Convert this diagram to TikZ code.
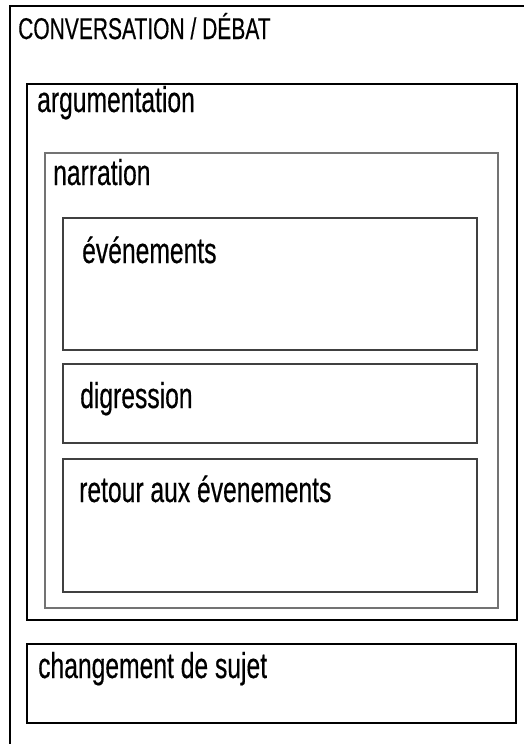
\documentclass[tikz,border=0pt]{standalone}
\usepackage{fontspec}
\setmainfont[FakeStretch=0.685,FakeBold=0.4]{Liberation Sans}
\newfontfamily\titlefont[FakeStretch=0.70,FakeBold=0.4]{Liberation Sans}
\usetikzlibrary{positioning}

\begin{document}
\begin{tikzpicture}[x=1pt,y=-1pt,
frame/.style={draw, line width=2pt},
nbox/.style={draw=black!55, line width=1.5pt},
ibox/.style={draw=black!75, line width=1.4pt},
lab/.style={anchor=base west, inner sep=0pt, font=\fontsize{36}{40}\selectfont}
]
\useasboundingbox (0,0) rectangle (524,744);
% outer frame, open on the right and below
\draw[frame] (524,6) -- (10,6) -- (10,744);
\node[anchor=base west, inner sep=0pt, font=\titlefont\fontsize{30}{34}\selectfont] (conv) at (18,39) {CONVERSATION / DÉBAT};

\draw[frame] (27,84) rectangle (517,620);
\node[lab] (argu) at (37,112) {argumentation};

\draw[nbox] (45,153) rectangle (498,608);
\node[lab] (narr) at (53,185) {narration};

\draw[ibox] (63,218) rectangle (477,350);
\node[lab] (even) at (82,263) {événements};
\draw[ibox] (63,364) rectangle (477,443);
\node[lab] (digr) at (80,408) {digression};
\draw[ibox] (63,459) rectangle (477,592);
\node[lab] (retour) at (79,502) {retour aux évenements};

\draw[frame] (27,644) rectangle (516,723);
\node[lab] (sujet) at (38,678) {changement de sujet};
\end{tikzpicture}
\end{document}
